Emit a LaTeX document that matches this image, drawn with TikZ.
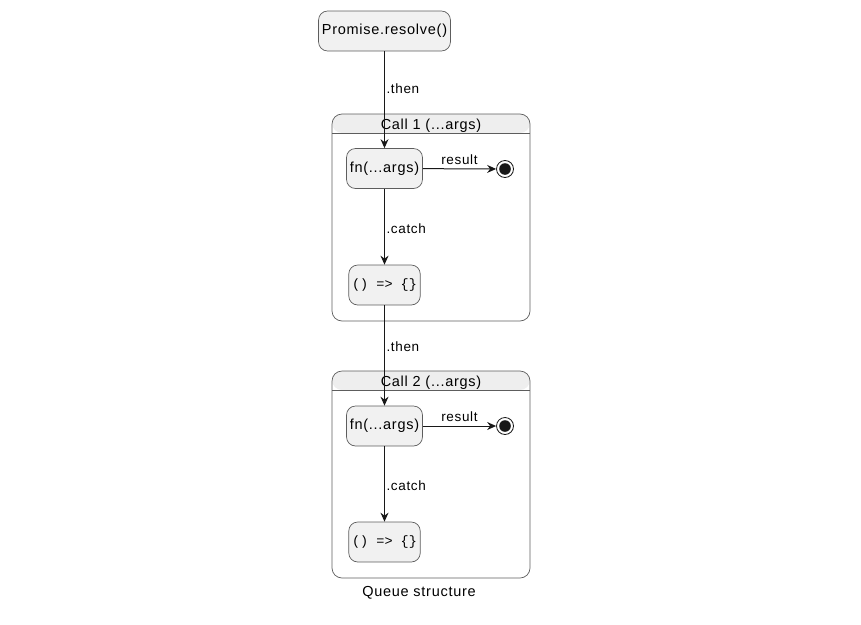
\documentclass[tikz,border=0pt]{standalone}
\usepackage{fontspec}
\setmainfont{Liberation Sans}[LetterSpace=5]
\newfontfamily\codefont{Liberation Mono}
\usetikzlibrary{arrows.meta}
\usetikzlibrary{positioning}
\definecolor{darkline}{HTML}{181818}
\definecolor{statefill}{HTML}{F1F1F1}
\definecolor{headfill}{HTML}{EEEEEE}
\tikzset{
	every node/.style={font=\fontsize{14.5}{17}\selectfont, text=black},
	state/.style={
		draw=darkline!70,
		line width=0.7pt,
		fill=statefill,
		rounded corners=9pt,
		minimum height=40pt,
	},
	cluster/.style={
		draw=darkline!70,
		line width=0.7pt,
		rounded corners=10pt,
		minimum width=198pt,
		minimum height=207pt,
		path picture={
			\fill[headfill] (path picture bounding box.north west) rectangle ([yshift=-19pt]path picture bounding box.north east);
			\draw[darkline!70, line width=0.7pt] ([yshift=-19pt]path picture bounding box.north west) -- ([yshift=-19pt]path picture bounding box.north east);
		},
	},
	final/.style={
		circle,
		draw=darkline,
		line width=0.8pt,
		fill=white,
		minimum size=17pt,
		inner sep=0pt,
		path picture={
			\fill[darkline] (path picture bounding box.center) circle (5.8pt);
		},
	},
	flow/.style={
		draw=darkline,
		line width=1pt,
		-{Stealth[length=9pt,width=8pt,inset=3pt]}
	},
	lbl/.style={
		font=\fontsize{13.5}{16}\selectfont,
		inner sep=1.5pt,
	},
	code/.style={
		font=\codefont\fontsize{13.5}{16}\selectfont,
	},
}

\begin{document}
\begin{tikzpicture}[x=1pt,y=-1pt]
		\useasboundingbox (0,0) rectangle (861,624);

		\node[state, minimum width=129pt] (resolve) at (384.5,31) {Promise.resolve()};

		% first call
		\node[cluster] (callA) at (431,217.5) {};
		\node (titleA) at (431,125.5) {Call 1 (...args)};
		\node[state, minimum width=75pt] (fnA) at (384.5,168.5) {fn(...args)};
		\node[final] (endA) at (505,169) {};
		\node[state, code, minimum width=71pt] (catchA) at (384.5,285) {() => \{\}};

		% second call
		\node[cluster] (callB) at (431,474.5) {};
		\node (titleB) at (431,383) {Call 2 (...args)};
		\node[state, minimum width=75pt] (fnB) at (384.5,426) {fn(...args)};
		\node[final] (endB) at (505,426) {};
		\node[state, code, minimum width=71pt] (catchB) at (384.5,542) {() => \{\}};

		\node (caption) at (419,593) {Queue structure};

		\draw[flow] (resolve) -- node[lbl, pos=0.39, right] {.then} (fnA);
		\draw[flow] (fnA) -- node[lbl, above, inner sep=4pt] {result} (endA);
		\draw[flow] (fnA) -- node[lbl, pos=0.52, right] {.catch} (catchA);
		\draw[flow] (catchA) -- node[lbl, pos=0.41, right] {.then} (fnB);
		\draw[flow] (fnB) -- node[lbl, above, inner sep=4pt] {result} (endB);
		\draw[flow] (fnB) -- node[lbl, pos=0.52, right] {.catch} (catchB);

	\end{tikzpicture}
\end{document}
